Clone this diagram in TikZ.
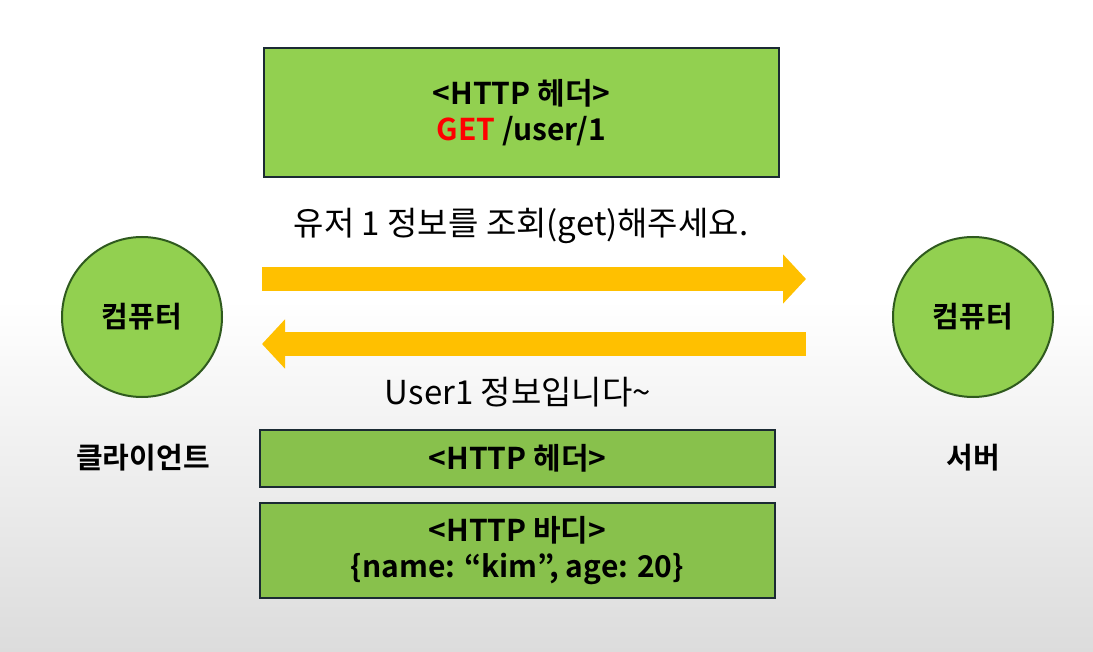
\documentclass[tikz,border=0pt]{standalone}
\usepackage{fontspec}
\setmainfont{Noto Sans CJK KR}[BoldFont={Noto Sans CJK KR Bold}]
\usetikzlibrary{arrows.meta}
\definecolor{boxgreen}{HTML}{92D050}
\definecolor{lowgreen}{HTML}{88C14C}
\definecolor{boxline}{HTML}{1B2A33}
\definecolor{ringline}{HTML}{2F5A1E}
\definecolor{flowyellow}{HTML}{FFC000}
\definecolor{getred}{HTML}{FF0000}
\definecolor{floorgray}{HTML}{DCDCDC}

\begin{document}
\begin{tikzpicture}[x=1pt,y=-1pt,
   box/.style={draw=boxline, line width=2.5pt, fill=boxgreen, inner sep=0pt,
     minimum width=515pt, align=center, font=\bfseries\fontsize{30}{36}\selectfont},
   pc/.style={circle, draw=ringline, line width=2pt, fill=boxgreen,
     minimum size=160pt, font=\bfseries\fontsize{29}{32}\selectfont},
   lbl/.style={font=\bfseries\fontsize{29}{32}\selectfont},
   msg/.style={font=\fontsize{33}{36}\selectfont},
   flow/.style={flowyellow, line width=24pt,
     -{Triangle[length=23pt,width=48pt]}}]
   % background
   \useasboundingbox (0,0) rectangle (1093,652);
   \fill[white] (0,0) rectangle (1093,300);
   \shade[top color=white, bottom color=floorgray] (0,300) rectangle (1093,652);

   % client and server
   \node[pc] (client) at (142,317) {컴퓨터};
   \node[pc] (server) at (973,317) {컴퓨터};
   \node[lbl] (clientlbl) at (143,458) {클라이언트};
   \node[lbl] (serverlbl) at (973,458) {서버};

   % request
   \node[box, minimum height=129pt] (reqhdr) at (521.5,112.5)
     {<HTTP 헤더>\\\textcolor{getred}{GET} /user/1};
   \node[msg] (reqmsg) at (521,226) {유저 1 정보를 조회(get)해주세요.};
   \coordinate (reqfrom) at (262,279);
   \coordinate (reqto) at (806,279);
   \draw[flow] (reqfrom) -- (reqto);

   % response
   \coordinate (resfrom) at (806,344);
   \coordinate (resto) at (262,344);
   \draw[flow] (resfrom) -- (resto);
   \node[msg] (resmsg) at (518,392) {User1 정보입니다\textasciitilde};
   \node[box, fill=lowgreen, minimum height=57pt] (reshdr) at (517.5,458.5)
     {<HTTP 헤더>};
   \node[box, fill=lowgreen, minimum height=95pt] (resbody) at (517.5,550.5)
     {<HTTP 바디>\\\{name: “kim”, age: 20\}};
\end{tikzpicture}
\end{document}
